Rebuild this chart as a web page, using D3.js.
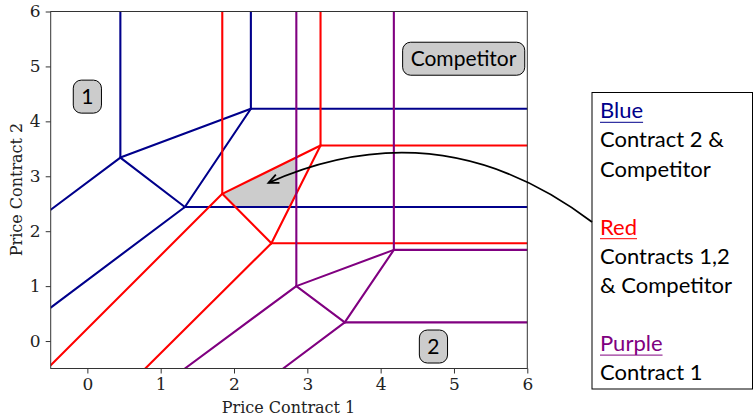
<!DOCTYPE html>
<html>
<head>
<meta charset="utf-8">
<script src="https://cdn.jsdelivr.net/npm/d3@7"></script>
<style>
  body { margin: 0; background: #fff; }
  svg { display: block; }
</style>
</head>
<body>
<svg id="chart" width="754" height="416"></svg>
<script>
// Price axes (both contracts share the same range)
const priceDomain = [-0.5, 6];
const xTicks = [0, 1, 2, 3, 4, 5, 6];
const yTicks = [0, 1, 2, 3, 4, 5, 6];

// Boundary segments, each [[p1, p2], [p1, p2]] in price units
const blueLines = [
  [[0.45, 6], [0.45, 3.34]],
  [[2.23, 6], [2.23, 4.23]],
  [[2.23, 4.23], [6, 4.23]],
  [[0.45, 3.34], [2.23, 4.23]],
  [[-0.5, 2.39], [0.45, 3.34]],
  [[0.45, 3.34], [1.33, 2.44]],
  [[1.33, 2.44], [2.23, 4.23]],
  [[1.33, 2.44], [6, 2.44]],
  [[-0.5, 0.61], [1.33, 2.44]]
];
const redLines = [
  [[1.84, 6], [1.84, 2.68]],
  [[3.18, 6], [3.18, 3.56]],
  [[3.18, 3.56], [6, 3.56]],
  [[1.84, 2.68], [3.18, 3.56]],
  [[1.84, 2.68], [2.51, 1.78]],
  [[3.18, 3.56], [2.51, 1.78]],
  [[2.51, 1.78], [6, 1.78]],
  [[-0.5, -0.44], [1.84, 2.68]],
  [[0.79, -0.5], [2.51, 1.78]]
];
const purpleLines = [
  [[2.85, 6], [2.85, 1.0]],
  [[4.18, 6], [4.18, 1.66]],
  [[4.18, 1.66], [6, 1.66]],
  [[2.85, 1.0], [4.18, 1.66]],
  [[2.85, 1.0], [3.51, 0.34]],
  [[4.18, 1.66], [3.51, 0.34]],
  [[3.51, 0.34], [6, 0.34]],
  [[1.33, -0.5], [2.85, 1.0]],
  [[2.67, -0.5], [3.51, 0.34]]
];

// Region labels (price units)
const regionLabels = [
  { text: "1", x: 0.0, y: 4.45 },
  { text: "Competitor", x: 5.13, y: 5.14 },
  { text: "2", x: 4.72, y: -0.1 }
];

// Point the arrow marks (price units)
const arrowTarget = [2.47, 2.88];

// Legend text
const legendEntries = [
  { title: "Blue", key: "blue", lines: ["Contract 2 &", "Competitor"] },
  { title: "Red", key: "red", lines: ["Contracts 1,2", "& Competitor"] },
  { title: "Purple", key: "purple", lines: ["Contract 1"] }
];

const colors = { blue: "#00008b", red: "#ff0000", purple: "#800080" };

const svg = d3.select("#chart");
const margin = { left: 50.7, top: 11.5, right: 754 - 527.3, bottom: 416 - 368.5 };
const W = 754 - margin.left - margin.right;
const H = 416 - margin.top - margin.bottom;

const x = d3.scaleLinear().domain(priceDomain).range([margin.left, margin.left + W]);
const y = d3.scaleLinear().domain(priceDomain).range([margin.top + H, margin.top]);

const serif = "'DejaVu Serif', serif";
const sans = "Lato, 'Open Sans', sans-serif";

// Clip for plot area
svg.append("defs").append("clipPath").attr("id", "plotClip")
  .append("rect").attr("x", margin.left).attr("y", margin.top).attr("width", W).attr("height", H);

const plot = svg.append("g").attr("clip-path", "url(#plotClip)");

// Intersection of two infinite lines, each given by a segment
function meet(s1, s2) {
  const [[x1, y1], [x2, y2]] = s1;
  const [[x3, y3], [x4, y4]] = s2;
  const d = (x1 - x2) * (y3 - y4) - (y1 - y2) * (x3 - x4);
  const a = x1 * y2 - y1 * x2, b = x3 * y4 - y3 * x4;
  return [(a * (x3 - x4) - (x1 - x2) * b) / d, (a * (y3 - y4) - (y1 - y2) * b) / d];
}

// Shaded area: where all three preference regions overlap
const topEdge = redLines[3], leftEdge = redLines[4], rightEdge = redLines[5];
const purpleEdge = purpleLines[0], floorEdge = blueLines[7];
const shaded = [
  topEdge[0],
  meet(topEdge, purpleEdge),
  meet(purpleEdge, rightEdge),
  meet(rightEdge, floorEdge),
  meet(floorEdge, leftEdge)
];
plot.append("path")
  .attr("d", d3.line().x(d => x(d[0])).y(d => y(d[1]))(shaded) + "Z")
  .attr("fill", "#cccccc").attr("stroke", "none");

function drawSegments(data, color) {
  plot.append("g").selectAll("line").data(data).join("line")
    .attr("x1", d => x(d[0][0])).attr("y1", d => y(d[0][1]))
    .attr("x2", d => x(d[1][0])).attr("y2", d => y(d[1][1]))
    .attr("stroke", color).attr("stroke-width", 2.1).attr("stroke-linecap", "round");
}
drawSegments(blueLines, colors.blue);
drawSegments(redLines, colors.red);
drawSegments(purpleLines, colors.purple);

// Axes
const axisColor = "#333";
const fmt = d3.format("d");
const gx = svg.append("g").attr("transform", `translate(0,${margin.top + H})`)
  .call(d3.axisBottom(x).tickValues(xTicks).tickFormat(fmt).tickSizeOuter(0).tickSize(5).tickPadding(4));
const gy = svg.append("g").attr("transform", `translate(${margin.left},0)`)
  .call(d3.axisLeft(y).tickValues(yTicks).tickFormat(fmt).tickSizeOuter(0).tickSize(5).tickPadding(5));
[gx, gy].forEach(g => {
  g.select(".domain").remove();
  g.selectAll(".tick line").attr("stroke", axisColor);
  g.selectAll(".tick text").attr("fill", "#222").style("font-family", serif).style("font-size", "17px");
});

svg.append("rect")
  .attr("x", margin.left).attr("y", margin.top).attr("width", W).attr("height", H)
  .attr("fill", "none").attr("stroke", axisColor).attr("stroke-width", 1);

svg.append("text").attr("x", margin.left + W / 2 - 0.5).attr("y", 413)
  .attr("text-anchor", "middle").style("font-family", serif).style("font-size", "16px")
  .attr("fill", "#222").text("Price Contract 1");
svg.append("text").attr("transform", `translate(22,${margin.top + H / 2 - 0.5}) rotate(-90)`)
  .attr("text-anchor", "middle").style("font-family", serif).style("font-size", "16px")
  .attr("fill", "#222").text("Price Contract 2");

// Region labels in rounded boxes
const labelG = svg.append("g");
regionLabels.forEach(d => {
  const g = labelG.append("g").attr("transform", `translate(${x(d.x)},${y(d.y)})`);
  const t = g.append("text").attr("text-anchor", "middle").attr("dy", "0.36em")
    .style("font-family", sans).style("font-size", "21px").attr("fill", "#000").text(d.text);
  const bb = t.node().getBBox();
  const padX = 8;
  g.insert("rect", "text")
    .attr("x", bb.x - padX).attr("y", -16.5)
    .attr("width", bb.width + 2 * padX).attr("height", 33)
    .attr("rx", 8).attr("ry", 8)
    .attr("fill", "#cccccc").attr("stroke", "#000").attr("stroke-width", 1);
});

// Legend box
const legX = 592, legY = 92.5, legW = 754 - 592 - 1.5, legH = 389 - 92.5;
svg.append("rect").attr("x", legX).attr("y", legY).attr("width", legW).attr("height", legH)
  .attr("fill", "#fff").attr("stroke", "#000").attr("stroke-width", 1);

const lineGap = 29.1;
let row = 0;
legendEntries.forEach(e => {
  const by = 118.3 + row * lineGap;
  const t = svg.append("text").attr("x", 600).attr("y", by)
    .style("font-family", sans).style("font-size", "22px").attr("fill", colors[e.key]).text(e.title);
  const w = t.node().getComputedTextLength();
  svg.append("line").attr("x1", 600).attr("x2", 600 + w).attr("y1", by + 4).attr("y2", by + 4)
    .attr("stroke", colors[e.key]).attr("stroke-width", 1);
  row++;
  e.lines.forEach(s => {
    svg.append("text").attr("x", 600).attr("y", 118.3 + row * lineGap)
      .style("font-family", sans).style("font-size", "22px").attr("fill", "#000").text(s);
    row++;
  });
  row++;
});

// Curved arrow from the legend to the shaded area
const start = [legX, 222];
const end = [x(arrowTarget[0]), y(arrowTarget[1])];
const ctrl = [440, 107];
const curve = d3.path();
curve.moveTo(start[0], start[1]);
curve.quadraticCurveTo(ctrl[0], ctrl[1], end[0], end[1]);
svg.append("path").attr("d", curve.toString()).attr("fill", "none")
  .attr("stroke", "#000").attr("stroke-width", 1.8);
const ang = Math.atan2(end[1] - ctrl[1], end[0] - ctrl[0]);
const hl = 11, ha = 0.42;
const head = d3.path();
head.moveTo(end[0] - hl * Math.cos(ang - ha), end[1] - hl * Math.sin(ang - ha));
head.lineTo(end[0], end[1]);
head.lineTo(end[0] - hl * Math.cos(ang + ha), end[1] - hl * Math.sin(ang + ha));
svg.append("path").attr("d", head.toString()).attr("fill", "none")
  .attr("stroke", "#000").attr("stroke-width", 1.8);
</script>
</body>
</html>
